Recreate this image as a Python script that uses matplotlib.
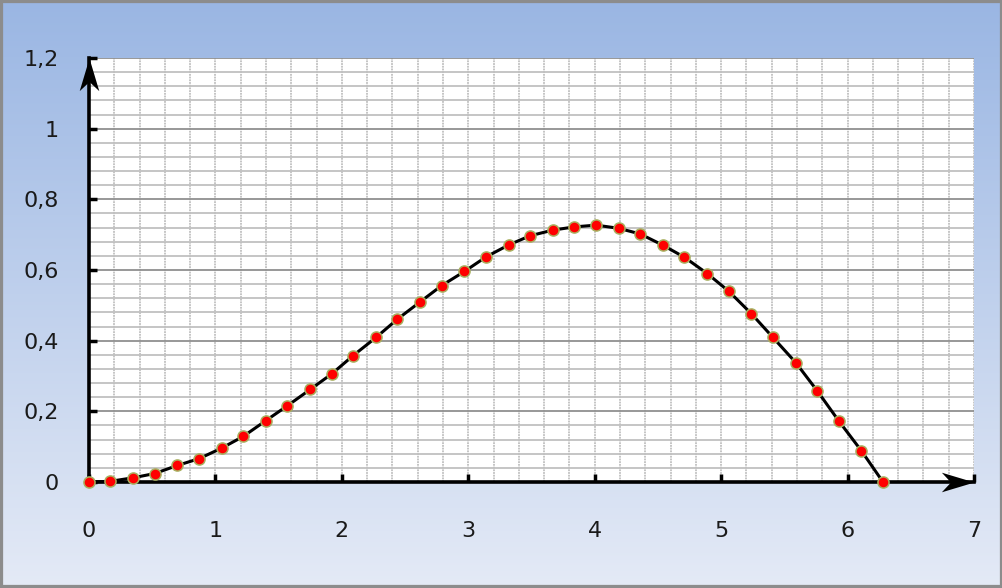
import matplotlib.pyplot as plt
import numpy as np
from matplotlib.ticker import MultipleLocator, FuncFormatter
from matplotlib.patches import Rectangle
from matplotlib.path import Path

# donnees
x_vals = [0, 0.17, 0.35, 0.52, 0.70, 0.87, 1.05, 1.22, 1.40, 1.57, 1.75, 1.92,
          2.09, 2.27, 2.44, 2.62, 2.79, 2.97, 3.14, 3.32, 3.49, 3.67, 3.84,
          4.01, 4.19, 4.36, 4.54, 4.71, 4.89, 5.06, 5.24, 5.41, 5.59, 5.76,
          5.93, 6.11, 6.28]
y_vals = [0, 0.002, 0.012, 0.024, 0.047, 0.066, 0.096, 0.129, 0.174, 0.216,
          0.262, 0.306, 0.358, 0.409, 0.461, 0.510, 0.556, 0.596, 0.637,
          0.671, 0.697, 0.713, 0.722, 0.727, 0.718, 0.702, 0.670, 0.636,
          0.590, 0.540, 0.476, 0.409, 0.338, 0.258, 0.173, 0.088, 0]

x_ticks = [0, 1, 2, 3, 4, 5, 6, 7]
y_ticks = [0, 0.2, 0.4, 0.6, 0.8, 1.0, 1.2]

fig = plt.figure(figsize=(10.03, 5.88), dpi=100)

# fond en degrade
bg = fig.add_axes([0, 0, 1, 1], zorder=-10)
grad = np.linspace(0, 1, 256).reshape(-1, 1)
top = np.array([154, 182, 227]) / 255
bot = np.array([228, 234, 246]) / 255
img = top + (bot - top) * grad[:, :, None]
bg.imshow(img, aspect='auto', extent=[0, 1, 0, 1])
bg.axis('off')
fig.patches.append(Rectangle((0, 0), 1, 1, transform=fig.transFigure,
                             fill=False, edgecolor='#8c8c8c', lw=4.5))

ax = fig.add_axes([89/1003, 1-482/588, (974-89)/1003, (482-58)/588])
ax.set_facecolor('white')
ax.set_xlim(0, 7)
ax.set_ylim(0, 1.2)

#grille
ax.yaxis.set_minor_locator(MultipleLocator(0.04))
ax.xaxis.set_minor_locator(MultipleLocator(0.2))
ax.set_xticks(x_ticks)
ax.set_yticks(y_ticks)
ax.grid(which='major', axis='y', color='#909090', lw=1.3)
ax.grid(which='minor', axis='y', color='#c0c0c0', lw=1.3)
ax.grid(which='both', axis='x', color='#c0c0c0', lw=1.3, ls=(0, (1, 0.5)))
ax.set_axisbelow(True)

fmt = FuncFormatter(lambda v, p: ('%g' % v).replace('.', ','))
ax.yaxis.set_major_formatter(fmt)
ax.xaxis.set_major_formatter(fmt)
ax.tick_params(which='major', direction='in', length=6, width=2.5,
               color='black', labelsize=16, labelcolor='#1a1a1a')
ax.tick_params(axis='x', which='major', pad=28)
ax.tick_params(axis='y', which='major', pad=22)
ax.tick_params(which='minor', length=0)

for s in ['top', 'right']:
    ax.spines[s].set_visible(False)
for s in ['left', 'bottom']:
    ax.spines[s].set_linewidth(2.6)
    ax.spines[s].set_color('black')

# fleches (pointe en forme de fleche creuse)
up = Path([(0, 0), (-0.3, -1), (0, -0.72), (0.3, -1), (0, 0)],
          [Path.MOVETO, Path.LINETO, Path.LINETO, Path.LINETO, Path.CLOSEPOLY])
right = Path([(0, 0), (-1, 0.3), (-0.72, 0), (-1, -0.3), (0, 0)],
             [Path.MOVETO, Path.LINETO, Path.LINETO, Path.LINETO, Path.CLOSEPOLY])
ax.plot([0], [1.2], marker=up, ms=47, color='black', mew=0, clip_on=False, zorder=5)
ax.plot([7], [0], marker=right, ms=47, color='black', mew=0, clip_on=False, zorder=5)

#courbe
ax.plot(x_vals, y_vals, color='black', lw=2.2, zorder=3, clip_on=False)
ax.plot(x_vals, y_vals, ls='none', marker='o', ms=8, mfc='#ff0000',
        mec='#a8b060', mew=1.1, zorder=4, clip_on=False)

fig.savefig('out.png', dpi=100)
